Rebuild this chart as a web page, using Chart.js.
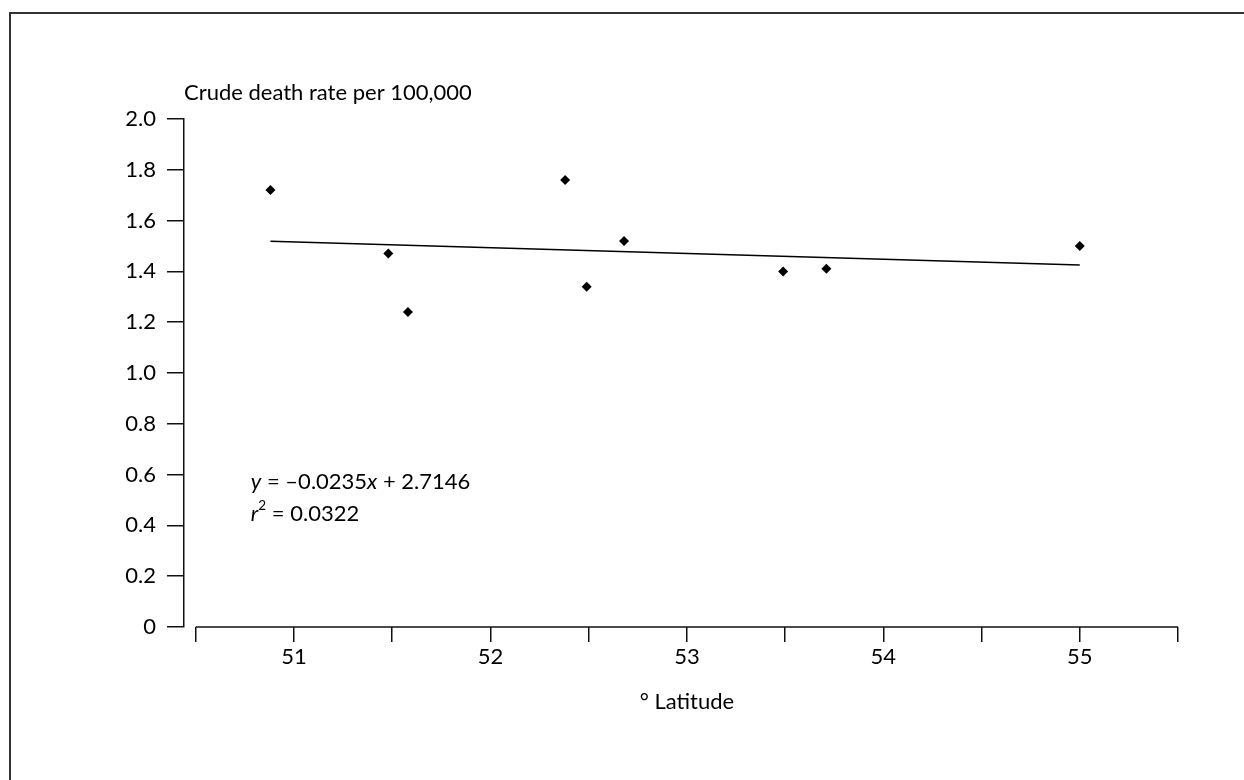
<!DOCTYPE html>
<html>
<head>
<meta charset="utf-8">
<script src="https://cdn.jsdelivr.net/npm/chart.js@4.4.1/dist/chart.umd.min.js"></script>
<style>
  html, body { margin: 0; padding: 0; background: #fff; }
  #wrap { position: relative; width: 1244px; height: 780px; overflow: hidden; }
  #frame { position: absolute; left: 9px; top: 12px; width: 1300px; height: 800px;
           border-top: 2px solid #333; border-left: 2px solid #333; }
  canvas { position: absolute; left: 0; top: 0; }
</style>
</head>
<body>
<div id="wrap">
  <div id="frame"></div>
  <canvas id="chart" width="1244" height="780"></canvas>
</div>
<script>
// values
const latitude  = [50.88, 51.48, 51.58, 52.38, 52.49, 52.68, 53.49, 53.71, 55.0];
const deathRate = [1.72, 1.47, 1.24, 1.76, 1.34, 1.52, 1.40, 1.41, 1.50];
const trendX = [50.88, 55.0];
const trendY = [1.519, 1.425];
const xTicks = [50.5, 51, 51.5, 52, 52.5, 53, 53.5, 54, 54.5, 55, 55.5];
const yTicks = [0, 0.2, 0.4, 0.6, 0.8, 1.0, 1.2, 1.4, 1.6, 1.8, 2.0];
const yTitle = "Crude death rate per 100,000";
const xTitle = "\u00B0 Latitude";
const eqLine1 = [["y", "italic"], [" = \u20130.0235", ""], ["x", "italic"], [" + 2.7146", ""]];
const eqLine2 = [["r", "italic"], ["2", "sup"], [" = 0.0322", ""]];
const eqPos = { x: 50.78, y: 0.57 };

const FONT = "Lato";
const SIZE = 22;
const axisColor = "#111";

function drawRuns(ctx, runs, x, y, size) {
  for (const [txt, style] of runs) {
    if (style === "sup") {
      ctx.font = (size * 0.62) + "px " + FONT;
      ctx.fillText(txt, x, y - size * 0.38);
    } else {
      ctx.font = (style === "italic" ? "italic " : "") + size + "px " + FONT;
      ctx.fillText(txt, x, y);
    }
    x += ctx.measureText(txt).width;
  }
}

const extras = {
  id: "extras",
  afterDraw(chart) {
    const { ctx, chartArea, scales: { x, y } } = chart;
    ctx.save();
    // x axis line only spans the tick range
    ctx.strokeStyle = axisColor;
    ctx.lineWidth = 1.5;
    ctx.beginPath();
    ctx.moveTo(x.getPixelForValue(xTicks[0]), chartArea.bottom);
    ctx.lineTo(x.getPixelForValue(xTicks[xTicks.length - 1]), chartArea.bottom);
    ctx.stroke();

    ctx.fillStyle = "#000";
    ctx.textBaseline = "middle";
    ctx.font = SIZE + "px " + FONT;
    ctx.textAlign = "left";
    ctx.fillText(yTitle, chartArea.left, chartArea.top - 26);
    ctx.textAlign = "center";
    ctx.fillText(xTitle, x.getPixelForValue(53), chartArea.bottom + 75);

    ctx.textAlign = "left";
    const ex = x.getPixelForValue(eqPos.x), ey = y.getPixelForValue(eqPos.y);
    drawRuns(ctx, eqLine1, ex, ey, SIZE);
    drawRuns(ctx, eqLine2, ex, ey + 32, SIZE);
    ctx.restore();
  }
};

new Chart(document.getElementById("chart"), {
  type: "scatter",
  data: {
    datasets: [{
      data: latitude.map((v, i) => ({ x: v, y: deathRate[i] })),
      pointStyle: "rectRot",
      pointRadius: 5,
      pointBackgroundColor: "#000",
      pointBorderWidth: 0
    }, {
      type: "line",
      data: trendX.map((v, i) => ({ x: v, y: trendY[i] })),
      borderColor: "#000",
      borderWidth: 1.5,
      pointRadius: 0,
      fill: false
    }]
  },
  options: {
    responsive: false,
    animation: false,
    layout: { padding: { top: 119, right: 66, left: 0, bottom: 0 } },
    plugins: { legend: { display: false }, tooltip: { enabled: false } },
    scales: {
      x: {
        type: "linear",
        min: 50.44,
        max: 55.5,
        afterBuildTicks: (s) => { s.ticks = xTicks.map(v => ({ value: v })); },
        afterFit: (s) => { s.height = 153; },
        border: { display: false },
        grid: { drawOnChartArea: false, tickLength: 15, color: axisColor, lineWidth: 1.5 },
        ticks: {
          autoSkip: false,
          maxRotation: 0,
          padding: 2,
          color: "#000",
          font: { family: FONT, size: SIZE },
          callback: (v) => Number.isInteger(v) ? String(v) : ""
        }
      },
      y: {
        min: 0,
        max: 2.0,
        afterBuildTicks: (s) => { s.ticks = yTicks.map(v => ({ value: v })); },
        afterFit: (s) => { s.width = 184; },
        border: { display: true, color: axisColor, width: 1.5 },
        grid: { drawOnChartArea: false, tickLength: 17, color: axisColor, lineWidth: 1.5 },
        ticks: {
          padding: 11,
          color: "#000",
          font: { family: FONT, size: SIZE },
          callback: (v) => v === 0 ? "0" : v.toFixed(1)
        }
      }
    }
  },
  plugins: [extras]
});
</script>
</body>
</html>
